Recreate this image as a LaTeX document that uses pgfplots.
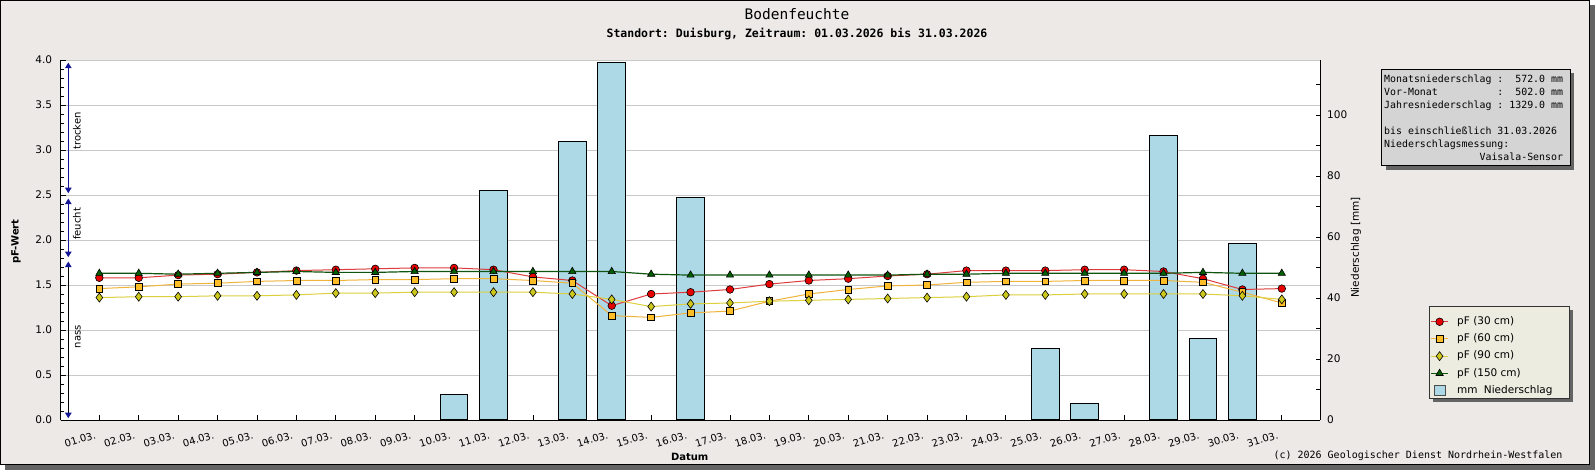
\documentclass[border=0pt]{standalone}
\usepackage{fontspec}
\setmainfont{DejaVu Sans}
\setmonofont{DejaVu Sans Mono}
\usepackage{pgfplots}
\usepackage{pgfplotstable}
\pgfplotsset{compat=1.18}
\usetikzlibrary{arrows.meta}

\definecolor{bgc}{RGB}{236,233,231}
\definecolor{shadowc}{RGB}{100,100,100}
\definecolor{barc}{RGB}{173,216,230}
\definecolor{gridc}{RGB}{200,200,200}
\definecolor{c30}{RGB}{230,0,0}
\definecolor{l30}{RGB}{222,60,60}
\definecolor{c60}{RGB}{255,190,40}
\definecolor{l60}{RGB}{240,180,60}
\definecolor{c90}{RGB}{205,200,30}
\definecolor{l90}{RGB}{220,208,60}
\definecolor{c150}{RGB}{0,95,0}
\definecolor{l150}{RGB}{15,85,15}
\definecolor{arrc}{RGB}{20,20,150}
\definecolor{legc}{RGB}{236,236,224}
\definecolor{infoc}{RGB}{212,212,212}

\newcommand\ftick{\fontsize{10.5bp}{12bp}\selectfont}
\newcommand\fxtick{\fontsize{10bp}{12bp}\selectfont}
\newcommand\flegend{\fontsize{10.5bp}{12bp}\selectfont}
\newcommand\finfo{\ttfamily\fontsize{9.9bp}{13bp}\selectfont}
\newcommand\fcopy{\ttfamily\fontsize{10bp}{12bp}\selectfont}
\newcommand\ftitle{\ttfamily\fontsize{14.5bp}{16bp}\selectfont}
\newcommand\fsub{\ttfamily\bfseries\fontsize{11.5bp}{13bp}\selectfont}
\newcommand\flab{\bfseries\fontsize{10bp}{12bp}\selectfont}
\newcommand\fylab{\fontsize{10.5bp}{12bp}\selectfont}
\newcommand\fsmall{\fontsize{10bp}{12bp}\selectfont}

\pgfplotstableread{
day p30 p60 p90 p150
1 1.58 1.46 1.36 1.63
2 1.58 1.48 1.37 1.63
3 1.61 1.51 1.37 1.62
4 1.62 1.52 1.38 1.63
5 1.64 1.54 1.38 1.64
6 1.66 1.55 1.39 1.65
7 1.67 1.55 1.41 1.64
8 1.68 1.56 1.41 1.64
9 1.69 1.56 1.42 1.65
10 1.69 1.57 1.42 1.65
11 1.67 1.57 1.42 1.65
12 1.59 1.55 1.42 1.65
13 1.55 1.52 1.40 1.65
14 1.27 1.16 1.34 1.65
15 1.40 1.14 1.26 1.62
16 1.42 1.19 1.29 1.61
17 1.45 1.21 1.30 1.61
18 1.51 1.32 1.32 1.61
19 1.55 1.40 1.33 1.61
20 1.57 1.45 1.34 1.61
21 1.60 1.49 1.35 1.61
22 1.62 1.50 1.36 1.62
23 1.66 1.53 1.37 1.62
24 1.66 1.54 1.39 1.63
25 1.66 1.54 1.39 1.63
26 1.67 1.55 1.40 1.63
27 1.67 1.55 1.40 1.63
28 1.65 1.55 1.40 1.63
29 1.57 1.53 1.40 1.64
30 1.45 1.42 1.38 1.63
31 1.46 1.30 1.34 1.63
}\soil

\pgfplotstableread{
day mm
10 8.2
11 75.3
13 91.4
14 117.2
16 73.0
25 23.5
26 5.4
28 93.3
29 26.8
30 57.9
}\rain

\pgfplotsset{
  /pgf/number format/assume math mode=true,
  base/.style={scale only axis, width=1259.3bp, height=360bp,
    at={(60.7bp,50bp)}, anchor=south west, xmin=0.02, xmax=31.97},
}

\begin{document}
\begin{tikzpicture}
% frame
\fill[shadowc] (5bp,0bp) rectangle (1595bp,465bp);
\fill[bgc] (0bp,5bp) rectangle (1590bp,470bp);
\draw[black, line width=1bp] (0.5bp,5.5bp) rectangle (1589.5bp,469.5bp);

% left axis with grid
\begin{axis}[base, ymin=0, ymax=4,
  axis background/.style={fill=white},
  axis x line*=bottom, axis y line*=left,
  axis line style={-, black, line width=1bp},
  every outer x axis line/.append style={-},
  every outer y axis line/.append style={-},
  xtick={1,...,31},
  xticklabels={01.03.,02.03.,03.03.,04.03.,05.03.,06.03.,07.03.,08.03.,09.03.,10.03.,11.03.,12.03.,13.03.,14.03.,15.03.,16.03.,17.03.,18.03.,19.03.,20.03.,21.03.,22.03.,23.03.,24.03.,25.03.,26.03.,27.03.,28.03.,29.03.,30.03.,31.03.},
  xticklabel style={font=\fxtick, inner sep=0pt, anchor=north east, xshift=-5bp, yshift=-11bp, rotate=17},
  ytick={0,0.5,1,1.5,2,2.5,3,3.5,4},
  minor y tick num=4,
  yticklabel style={font=\ftick, inner sep=0pt, anchor=east, xshift=-8.4bp,
    /pgf/number format/.cd, fixed, fixed zerofill, precision=1},
  tick align=inside, major tick length=5bp, minor tick length=3.3bp,
  tick style={black, line width=0.8bp},
  ymajorgrids, grid style={gridc, line width=0.9bp},
]
\draw[arrc, line width=1bp, {Triangle[width=6.5bp,length=5.5bp]}-{Triangle[width=6.5bp,length=5.5bp]}]
  (axis cs:0.213,2.52) -- (axis cs:0.213,3.97);
\draw[arrc, line width=1bp, {Triangle[width=6.5bp,length=5.5bp]}-{Triangle[width=6.5bp,length=5.5bp]}]
  (axis cs:0.213,1.81) -- (axis cs:0.213,2.46);
\draw[black, line width=1bp, {Triangle[width=6.5bp,length=5.5bp,color=arrc]}-{Triangle[width=6.5bp,length=5.5bp,color=arrc]}]
  (axis cs:0.213,0.02) -- (axis cs:0.213,1.76);
\node[font=\fsmall, rotate=90, anchor=base west, inner sep=0pt] at (axis cs:0.527,3.0) {trocken};
\node[font=\fsmall, rotate=90, anchor=base west, inner sep=0pt] at (axis cs:0.527,2.0) {feucht};
\node[font=\fsmall, rotate=90, anchor=base west, inner sep=0pt] at (axis cs:0.527,0.797) {nass};
\end{axis}

% precipitation bars, right axis
\begin{axis}[base, ymin=0, ymax=118,
  axis x line=none, axis y line*=right,
  axis line style={-, black, line width=1bp},
  every outer y axis line/.append style={-},
  ytick={0,20,40,60,80,100}, minor ytick={10,30,50,70,90,110},
  tick align=inside, major tick length=4.3bp, minor tick length=4.3bp,
  tick style={black, line width=0.8bp},
  yticklabel style={font=\ftick, inner sep=0pt, anchor=west, xshift=7bp},
  ybar, bar width=27.7bp,
]
\addplot[fill=barc, draw=black, line width=1bp] table[x=day,y=mm]{\rain};
\end{axis}

% legend frame and shadow
\fill[shadowc] (1433.3bp,67.7bp) rectangle (1573.3bp,160bp);
\filldraw[fill=legc, draw=black!80, line width=0.8bp] (1429.3bp,71.7bp) rectangle (1569.3bp,164bp);

% soil moisture lines
\begin{axis}[base, ymin=0, ymax=4, hide axis,
  legend cell align=left,
  legend style={at={(axis description cs:1.0844,0.3019)}, anchor=north west,
    fill=none, draw=none, font=\flegend,
    inner sep=4bp, row sep=4.7bp,
    nodes={inner sep=1bp, text height=8bp, text depth=2.5bp},
    /tikz/every odd column/.append style={column sep=7.5bp}},
  legend image code/.code={%
    \draw[#1, mark=none] (0cm,0cm) -- (0.6cm,0cm);
    \draw[#1] plot coordinates {(0.3cm,0cm)};},
]
\addplot[l30, line width=1bp, mark=*, mark size=3.8bp,
  mark options={fill=c30, draw=black, line width=0.6bp}] table[x=day,y=p30]{\soil};
\addlegendentry{pF (30 cm)}
\addplot[l60, line width=1bp, mark=square*, mark size=3.4bp,
  mark options={fill=c60, draw=black, line width=0.6bp}] table[x=day,y=p60]{\soil};
\addlegendentry{pF (60 cm)}
\addplot[l90, line width=1bp, mark=diamond*, mark size=4.5bp,
  mark options={fill=c90, draw=black, line width=0.6bp}] table[x=day,y=p90]{\soil};
\addlegendentry{pF (90 cm)}
\addplot[l150, line width=1.2bp, mark=triangle*, mark size=4.2bp,
  mark options={fill=c150, draw=black, line width=0.6bp}] table[x=day,y=p150]{\soil};
\addlegendentry{pF (150 cm)}
\addlegendimage{legend image code/.code={\draw[fill=barc, draw=black!70, line width=0.8bp] (0.106cm,-0.176cm) rectangle (0.494cm,0.176cm);}}
\addlegendentry{mm\hspace{0.6em}Niederschlag}
\end{axis}

% titles and labels
\node[font=\ftitle] at (797bp,455.8bp) {Bodenfeuchte};
\node[font=\fsub] at (797bp,436.4bp) {Standort: Duisburg, Zeitraum: 01.03.2026 bis 31.03.2026};
\node[font=\flab, rotate=90] at (16bp,228.3bp) {pF-Wert};
\node[font=\flab] at (689.7bp,12.7bp) {Datum};
\node[font=\fylab, rotate=90] at (1356bp,222.4bp) {Niederschlag [mm]};

% info box
\fill[shadowc] (1385.7bp,300.3bp) rectangle (1574bp,397bp);
\filldraw[fill=infoc, draw=black, line width=0.8bp] (1381.7bp,304.3bp) rectangle (1570bp,401bp);
\node[anchor=north west, inner sep=0pt, align=left, font=\finfo] at (1384bp,395bp)
 {Monatsniederschlag :\phantom{00}572.0 mm\\
  Vor-Monat\phantom{0000000000}:\phantom{00}502.0 mm\\
  Jahresniederschlag :\phantom{0}1329.0 mm\\[13bp]
  bis einschließlich 31.03.2026\\
  Niederschlagsmessung:\\
  \phantom{0000000000000000}Vaisala-Sensor};

% copyright
\node[anchor=base east, inner sep=0pt, font=\fcopy] at (1562.7bp,12bp)
 {(c) 2026 Geologischer Dienst Nordrhein-Westfalen};

\pgfresetboundingbox
\path[use as bounding box] (0bp,0bp) rectangle (1595bp,470bp);
\end{tikzpicture}
\end{document}
